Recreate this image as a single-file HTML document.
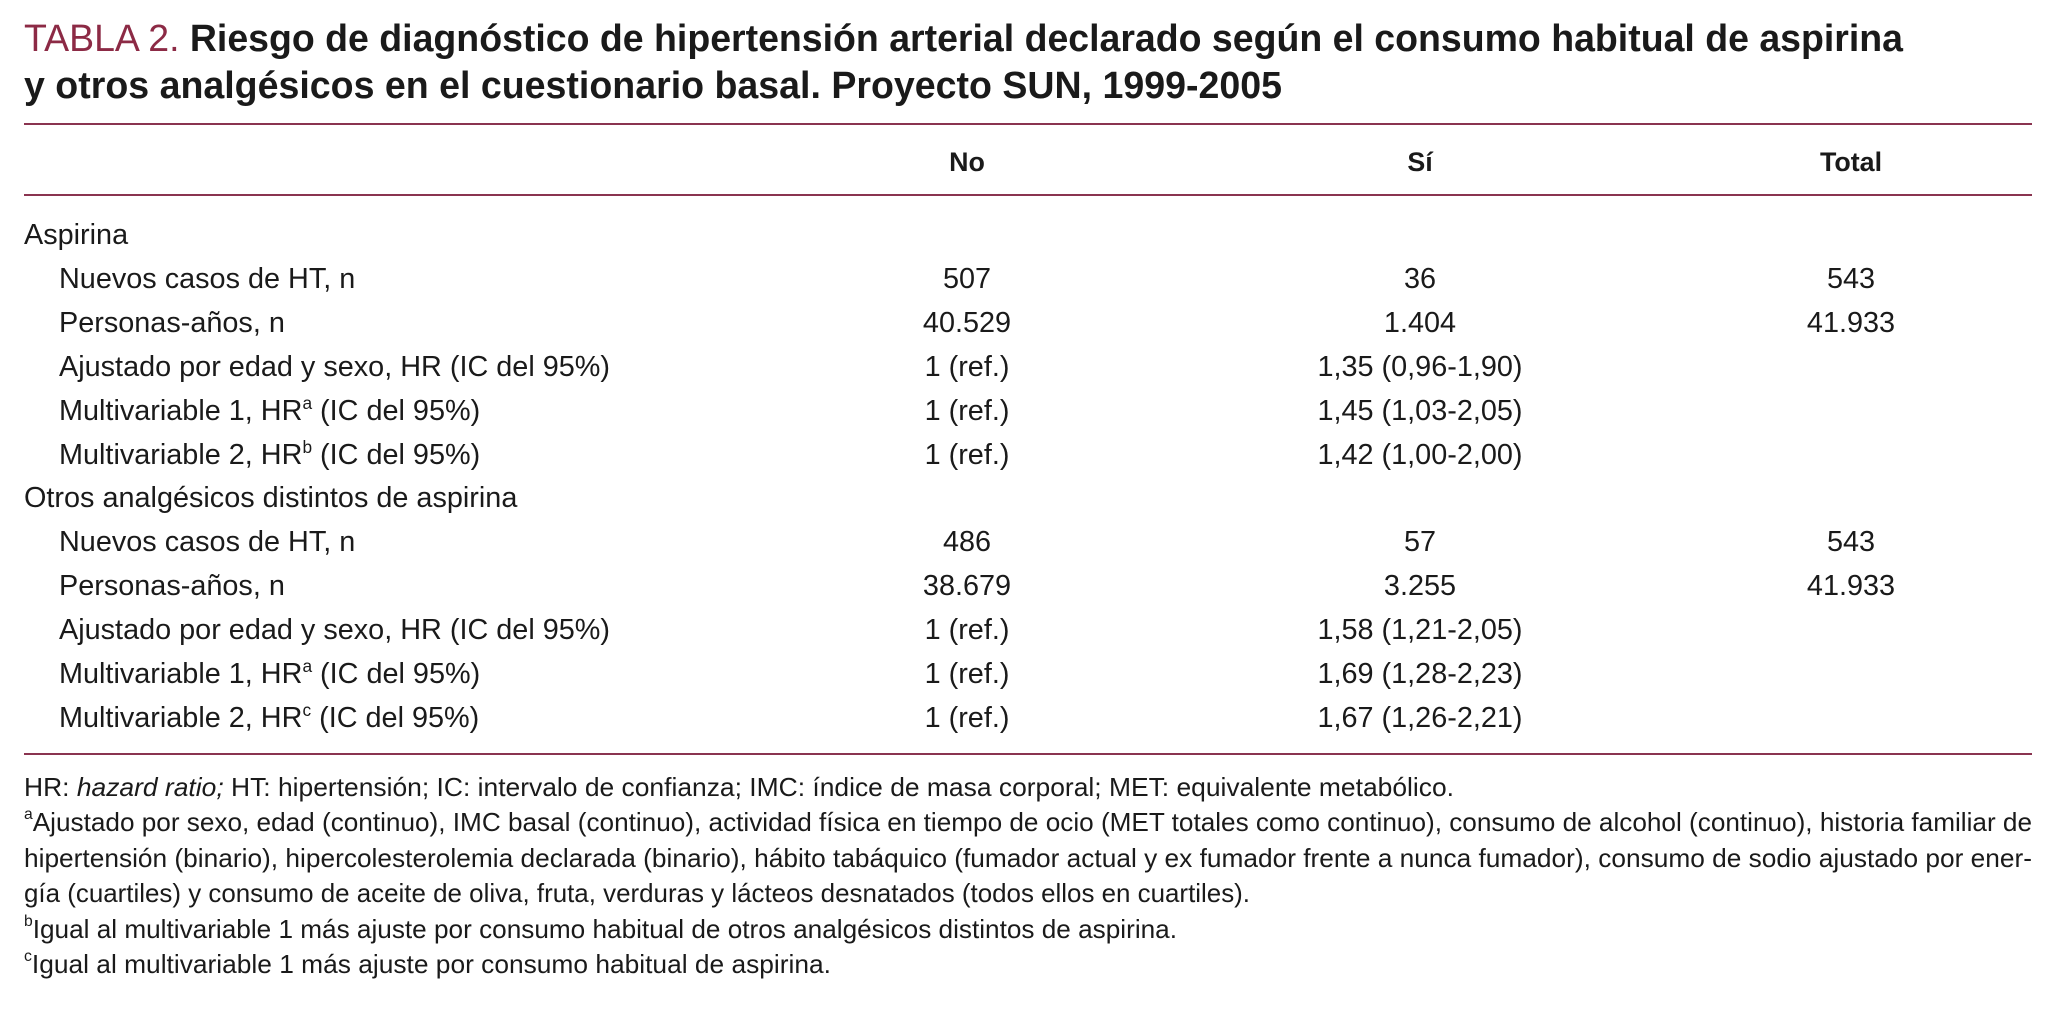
<!DOCTYPE html>
<html><head><meta charset="utf-8">
<style>
html,body{margin:0;padding:0;background:#fff;}
body{width:2058px;height:1012px;position:relative;overflow:hidden;font-family:"Liberation Sans",sans-serif;color:#1a1a1a;}
.t{position:absolute;white-space:nowrap;transform-origin:0 50%;line-height:1;}
.c{transform-origin:50% 50%;}
.rule{position:absolute;left:24px;width:2008px;height:2px;background:#8a3450;}
.title{font-size:38px;font-weight:bold;}
.red{color:#8c2a45;font-weight:normal;}
.hdr{font-size:27px;font-weight:bold;}
.row{font-size:29px;}
.ft{font-size:26px;}
sup{font-size:60%;vertical-align:top;position:relative;top:-2px;}
</style></head><body>
<div class="t title" data-w="1879" style="left:24px;top:20px;"><span class="red">TABLA 2.</span> Riesgo de diagnóstico de hipertensión arterial declarado según el consumo habitual de aspirina</div>
<div class="t title" data-w="1258" style="left:24px;top:67px;">y otros analgésicos en el cuestionario basal. Proyecto SUN, 1999-2005</div>
<div class="rule" style="top:123px;"></div>
<div class="t hdr c" style="left:867px;width:200px;text-align:center;top:149px;">No</div>
<div class="t hdr c" style="left:1320px;width:200px;text-align:center;top:149px;">Sí</div>
<div class="t hdr c" style="left:1751px;width:200px;text-align:center;top:149px;">Total</div>
<div class="rule" style="top:194px;"></div>
<div id="rows"></div>
<div class="rule" style="top:753px;"></div>
<div class="t ft" data-w="1430" style="left:24px;top:774px;">HR: <i>hazard ratio;</i> HT: hipertensión; IC: intervalo de confianza; IMC: índice de masa corporal; MET: equivalente metabólico.</div>
<div class="t ft" data-w="2008" style="left:24px;top:809px;"><sup>a</sup>Ajustado por sexo, edad (continuo), IMC basal (continuo), actividad física en tiempo de ocio (MET totales como continuo), consumo de alcohol (continuo), historia familiar de</div>
<div class="t ft" data-w="2008" style="left:24px;top:845px;">hipertensión (binario), hipercolesterolemia declarada (binario), hábito tabáquico (fumador actual y ex fumador frente a nunca fumador), consumo de sodio ajustado por ener-</div>
<div class="t ft" data-w="1226" style="left:24px;top:880px;">gía (cuartiles) y consumo de aceite de oliva, fruta, verduras y lácteos desnatados (todos ellos en cuartiles).</div>
<div class="t ft" data-w="1153" style="left:24px;top:916px;"><sup>b</sup>Igual al multivariable 1 más ajuste por consumo habitual de otros analgésicos distintos de aspirina.</div>
<div class="t ft" data-w="807" style="left:24px;top:951px;"><sup>c</sup>Igual al multivariable 1 más ajuste por consumo habitual de aspirina.</div>
<script>
const rowLabels=["Aspirina","Nuevos casos de HT, n","Personas-años, n","Ajustado por edad y sexo, HR (IC del 95%)","Multivariable 1, HR<sup>a</sup> (IC del 95%)","Multivariable 2, HR<sup>b</sup> (IC del 95%)","Otros analgésicos distintos de aspirina","Nuevos casos de HT, n","Personas-años, n","Ajustado por edad y sexo, HR (IC del 95%)","Multivariable 1, HR<sup>a</sup> (IC del 95%)","Multivariable 2, HR<sup>c</sup> (IC del 95%)"];
const rowIndent=[0,1,1,1,1,1,0,1,1,1,1,1];
const colNo=["","507","40.529","1 (ref.)","1 (ref.)","1 (ref.)","","486","38.679","1 (ref.)","1 (ref.)","1 (ref.)"];
const colSi=["","36","1.404","1,35 (0,96-1,90)","1,45 (1,03-2,05)","1,42 (1,00-2,00)","","57","3.255","1,58 (1,21-2,05)","1,69 (1,28-2,23)","1,67 (1,26-2,21)"];
const colTotal=["","543","41.933","","","","","543","41.933","","","",""];
const rows=document.getElementById('rows');
const y0=236, dy=43.9;
let refEl=null, cells=[];
function add(html,x,y,center,name){
  const d=document.createElement('div');
  d.className='t row'+(center?' c':'');
  
  
  d.innerHTML=html;
  d.style.top=(y-15)+'px';
  if(center){d.style.left=(x-200)+'px';d.style.width='400px';d.style.textAlign='center';}
  else d.style.left=x+'px';
  rows.appendChild(d);cells.push(d);return d;
}
rowLabels.forEach((l,i)=>{
  const y=y0+dy*i;
  const e=add(l,rowIndent[i]?59:24,y,false,'row-label-'+i);
  if(i===3)refEl=e;
  if(colNo[i])add(colNo[i],967,y,true,'cell-no-'+i);
  if(colSi[i])add(colSi[i],1420,y,true,'cell-si-'+i);
  if(colTotal[i])add(colTotal[i],1851,y,true,'cell-total-'+i);
});
const s=551/refEl.getBoundingClientRect().width;
cells.forEach(c=>{c.style.transform='scaleX('+s+')';});
document.querySelectorAll('.hdr').forEach(h=>h.style.transform='scaleX('+s+')');
document.querySelectorAll('[data-w]').forEach(e=>{
  const w=e.getBoundingClientRect().width;
  e.style.transform='scaleX('+(parseFloat(e.dataset.w)/w)+')';
});
</script>
</body></html>
